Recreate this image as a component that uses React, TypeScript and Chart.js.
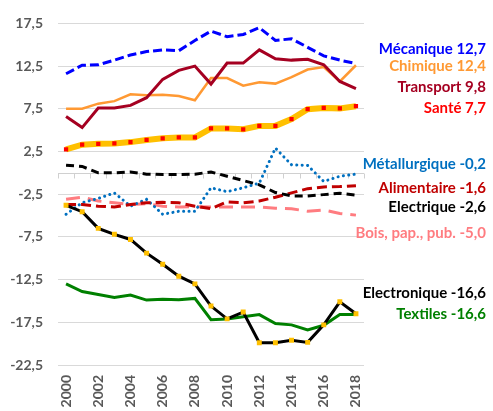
import React, { useEffect, useRef } from 'react';
import { Chart, registerables } from 'chart.js';
Chart.register(...registerables);

const years = ['2000','2001','2002','2003','2004','2005','2006','2007','2008','2009','2010','2011','2012','2013','2014','2015','2016','2017','2018'];

const mecanique = [11.6, 12.6, 12.65, 13.2, 13.8, 14.2, 14.4, 14.3, 15.5, 16.6, 15.95, 16.2, 17.0, 15.5, 15.7, 14.7, 13.7, 13.2, 12.8];
const chimique = [7.5, 7.5, 8.1, 8.4, 9.2, 9.1, 9.15, 9.0, 8.5, 11.1, 11.1, 10.2, 10.6, 10.45, 11.2, 12.1, 12.4, 10.7, 12.6];
const transport = [6.6, 5.3, 7.6, 7.6, 7.9, 8.8, 10.95, 12.0, 12.5, 10.4, 12.85, 12.85, 14.4, 13.35, 13.2, 13.3, 12.65, 10.7, 9.85];
const sante = [2.75, 3.3, 3.4, 3.45, 3.6, 3.85, 4.05, 4.15, 4.15, 5.2, 5.2, 5.1, 5.5, 5.5, 6.3, 7.45, 7.6, 7.55, 7.8];
const metallurgique = [-4.85, -3.5, -3.0, -2.35, -3.9, -3.1, -4.85, -4.5, -4.5, -1.75, -2.2, -1.75, -1.2, 2.9, 0.95, 0.87, -1.0, -0.4, -0.15];
const alimentaire = [-3.7, -3.7, -3.9, -4.0, -3.7, -3.5, -3.45, -3.5, -3.9, -4.2, -3.4, -3.5, -3.3, -2.85, -2.35, -1.85, -1.65, -1.6, -1.5];
const electrique = [0.9, 0.75, 0, 0, 0.1, -0.15, -0.2, -0.2, -0.15, 0.1, -0.4, -0.9, -1.4, -2.3, -2.7, -2.7, -2.55, -2.4, -2.6];
const bois = [-3.1, -2.85, -3.3, -3.5, -3.7, -3.6, -3.9, -4.0, -3.95, -4.0, -4.0, -4.0, -4.0, -4.15, -4.2, -4.5, -4.35, -4.75, -4.95];
const electronique = [-3.8, -4.55, -6.5, -7.2, -7.8, -9.4, -10.7, -12.1, -13.0, -15.6, -17.1, -16.3, -19.9, -19.9, -19.6, -19.85, -17.8, -15.1, -16.5];
const textiles = [-13.0, -13.9, -14.25, -14.6, -14.3, -14.9, -14.8, -14.85, -14.7, -17.2, -17.1, -16.85, -16.6, -17.65, -17.8, -18.4, -17.85, -16.6, -16.6];

const yMin = -22.5;
const yMax = 17.5;
const yStep = 5;

const endLabels = ['Mécanique 12,7', 'Chimique 12,4', 'Transport 9,8', 'Santé 7,7', 'Métallurgique -0,2', 'Alimentaire -1,6', 'Electrique -2,6', 'Bois, pap., pub. -5,0', 'Electronique -16,6', 'Textiles -16,6'];
const endLabelY = [14.5, 12.5, 10.05, 7.6, 1.0, -1.8, -4.0, -7.1, -14.1, -16.6];
const endLabelColors = ['#0000FF', '#FF9933', '#A50021', '#FF0000', '#0070C0', '#C00000', '#000000', '#FF7C80', '#000000', '#008000'];

const FONT = 'Lato, "Open Sans", sans-serif';

const zeroAxisPlugin = {
  id: 'zeroAxis',
  beforeDatasetsDraw(chart: any) {
    const { ctx, chartArea } = chart;
    const xs = chart.scales.x;
    const ys = chart.scales.y;
    const y0 = Math.round(ys.getPixelForValue(0)) + 0.5;
    ctx.save();
    ctx.strokeStyle = '#D0D0D0';
    ctx.lineWidth = 1;
    ctx.beginPath();
    ctx.moveTo(chartArea.left, y0);
    ctx.lineTo(chartArea.right, y0);
    const n = years.length;
    const step = xs.getPixelForValue(1) - xs.getPixelForValue(0);
    for (let i = 0; i <= n; i++) {
      const x = Math.round(xs.getPixelForValue(i) - step / 2) + 0.5;
      ctx.moveTo(x, y0);
      ctx.lineTo(x, y0 + 5);
    }
    ctx.stroke();
    ctx.restore();
  },
};

const endLabelPlugin = {
  id: 'endLabels',
  afterDraw(chart: any) {
    const { ctx, chartArea } = chart;
    const ys = chart.scales.y;
    ctx.save();
    ctx.font = 'bold 15px ' + FONT;
    ctx.textAlign = 'right';
    ctx.textBaseline = 'middle';
    endLabels.forEach((t, i) => {
      ctx.fillStyle = endLabelColors[i];
      ctx.fillText(t, chartArea.right + 122, ys.getPixelForValue(endLabelY[i]));
    });
    ctx.restore();
  },
};

export default function App() {
  const ref = useRef<HTMLCanvasElement | null>(null);
  useEffect(() => {
    if (!ref.current) return;
    const line = (data: number[], color: string, width: number, dash: number[] = [], extra: any = {}) => ({
      data,
      borderColor: color,
      backgroundColor: color,
      borderWidth: width,
      borderDash: dash,
      pointRadius: 0,
      tension: 0,
      fill: false,
      ...extra,
    });
    const chart = new Chart(ref.current, {
      type: 'line',
      data: {
        labels: years,
        datasets: [
          line(electronique, '#000000', 3, [], { pointRadius: 3.5, pointStyle: 'rect', pointBackgroundColor: '#FFC000', pointBorderColor: '#FFC000', pointBorderWidth: 0 }),
          line(sante, '#FFC000', 6, [], { pointRadius: 3, pointStyle: 'rect', pointBackgroundColor: '#FF0000', pointBorderColor: '#FF0000', pointBorderWidth: 0 }),
          line(mecanique, '#0000FF', 3, [9, 4]),
          line(transport, '#A50021', 3),
          line(chimique, '#FF9933', 2.5),
          line(electrique, '#000000', 3, [8, 5]),
          line(alimentaire, '#C00000', 3, [10, 5]),
          line(metallurgique, '#0070C0', 3, [0.1, 5.3], { borderCapStyle: 'round' }),
          line(bois, '#FF7C80', 3, [14, 8]),
          line(textiles, '#008000', 3),
        ],
      },
      options: {
        responsive: false,
        animation: false,
        layout: { padding: { left: 0, top: 20, right: 129, bottom: 0 } },
        plugins: { legend: { display: false }, tooltip: { enabled: false } },
        scales: {
          x: {
            offset: true,
            grid: { display: false, drawTicks: false },
            border: { display: false },
            ticks: {
              autoSkip: false,
              maxRotation: 90,
              minRotation: 90,
              padding: 10,
              color: '#595959',
              font: { family: FONT, size: 14, weight: 'bold' },
              callback: (v: any, i: number) => (i % 2 === 0 ? years[i] : ''),
            },
            afterFit: (s: any) => { s.height = 46; },
          },
          y: {
            min: yMin,
            max: yMax,
            grid: { color: '#D9D9D9', drawTicks: false },
            border: { display: false },
            ticks: {
              stepSize: yStep,
              padding: 15,
              color: '#595959',
              font: { family: FONT, size: 14, weight: 'bold' },
              callback: (v: any) => Number(v).toFixed(1).replace('.', ','),
            },
            afterFit: (s: any) => { s.width = 58; },
          },
        },
      },
      plugins: [zeroAxisPlugin, endLabelPlugin],
    });
    return () => chart.destroy();
  }, []);
  return (
    <div style={{ position: 'fixed', left: 0, top: 0, width: 493, height: 411, background: '#fff' }}>
      <canvas ref={ref} width={493} height={411} />
    </div>
  );
}
